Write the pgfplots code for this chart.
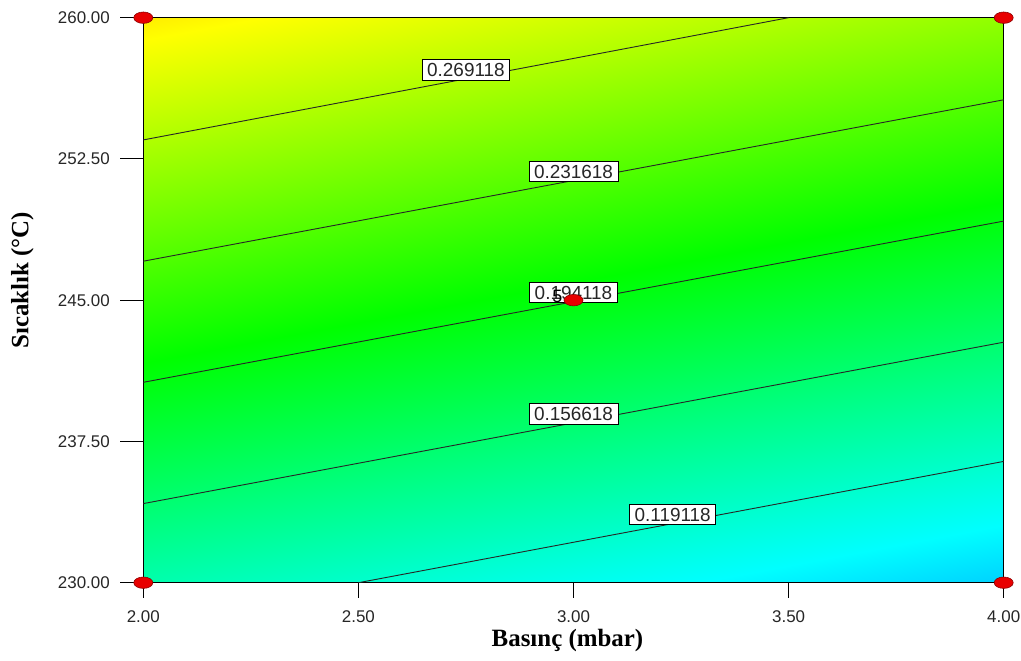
\documentclass[border=0pt]{standalone}
\usepackage{pgfplots}
\usepackage{pgfplotstable}
\pgfplotsset{compat=1.18}
\usepackage{fontspec}
\setmainfont{Liberation Sans}
\newfontfamily\serifbold{Liberation Serif}

\definecolor{dotred}{RGB}{232,0,0}
\definecolor{dotedge}{RGB}{140,0,0}

\tikzset{lbl/.style={draw=black, fill=white, line width=0.8bp, inner xsep=5bp,
    inner ysep=3.5bp, text height=13.6bp, text depth=0bp, anchor=south,
    yshift=-1.5bp, font=\fontsize{19}{22}\selectfont}}

% response surface on the design grid (Basınç, Sıcaklık, yanıt)
\pgfplotstableread{
x    y      z
2    230    0.13211
2.5  230    0.11962
3    230    0.10714
3.5  230    0.09465
4    230    0.08217
2    237.5  0.17582
2.5  237.5  0.16333
3    237.5  0.15085
3.5  237.5  0.13836
4    237.5  0.12588
2    245    0.21953
2.5  245    0.20704
3    245    0.19456
3.5  245    0.18207
4    245    0.16959
2    252.5  0.26324
2.5  252.5  0.25075
3    252.5  0.23827
3.5  252.5  0.22578
4    252.5  0.21330
2    260    0.30695
2.5  260    0.29446
3    260    0.28198
3.5  260    0.26949
4    260    0.25701
}\gridtable

% design points
\pgfplotstableread{
x  y
2  230
2  260
4  230
4  260
3  245
}\designpts

\begin{document}
\begin{tikzpicture}[x=1bp,y=1bp]
\begin{axis}[
  at={(0,0)}, anchor=south west,
  scale only axis, width=860.4bp, height=565bp,
  set layers, clip mode=individual,
  xmin=2, xmax=4, ymin=230, ymax=260,
  xtick={2,2.5,3,3.5,4},
  ytick={230,237.5,245,252.5,260},
  tick pos=left, tick align=outside,
  major tick length=15bp,
  ytick style={/pgfplots/major tick length=23bp},
  tick style={black, line width=1bp},
  axis line style={black, line width=1.2bp},
  /pgf/number format/fixed,
  /pgf/number format/fixed zerofill,
  /pgf/number format/precision=2,
  /pgf/number format/assume math mode=true,
  tick label style={font=\fontsize{17}{20}\selectfont, text=black!85},
  xticklabel style={yshift=-9.5bp},
  yticklabel style={xshift=-15bp},
  xlabel={Basınç (mbar)},
  ylabel={Sıcaklık (°C)},
  label style={font=\serifbold\bfseries\fontsize{25}{28}\selectfont},
  xlabel style={at={(axis description cs:0.493,-0.1015)}, anchor=center},
  ylabel style={at={(axis description cs:-0.1404,0.535)}, anchor=center},
  colormap={de}{rgb255(0cm)=(0,0,255); rgb255(1cm)=(0,255,255); rgb255(2cm)=(0,255,0); rgb255(3cm)=(255,255,0); rgb255(4cm)=(255,0,0)},
  point meta min=0, point meta max=0.4,
]
\addplot[surf, shader=interp, mesh/cols=5, point meta=explicit,
  on layer=axis background]
  table[x=x, y=y, meta=z] {\gridtable};

% contour lines
\addplot[black!85, line width=0.9bp] coordinates {(2,253.51) (3.5,260)}
  node[lbl, pos=0.5] {0.269118};
\addplot[black!85, line width=0.9bp] coordinates {(2,247.07) (4,255.64)}
  node[lbl, pos=0.5] {0.231618};
\addplot[black!85, line width=0.9bp] coordinates {(2,240.64) (4,249.20)}
  node[lbl, pos=0.5] {0.194118};
\addplot[black!85, line width=0.9bp] coordinates {(2,234.20) (4,242.77)}
  node[lbl, pos=0.5] {0.156618};
\addplot[black!85, line width=0.9bp] coordinates {(2.5,230) (4,236.44)}
  node[lbl, pos=0.487] {0.119118};

\node[anchor=east, inner sep=0pt, font=\fontsize{18}{20}\selectfont,
  xshift=-11bp, yshift=3.7bp] at (axis cs:3,245) {5};

\addplot[only marks, mark=*, mark size=5.7bp,
  mark options={xscale=1.67, fill=dotred, draw=dotedge, line width=0.6bp},
  on layer=axis foreground] table[x=x, y=y] {\designpts};
\end{axis}
\pgfresetboundingbox
\useasboundingbox (-143.3,-78.3) rectangle (877.7,582.7);
\end{tikzpicture}
\end{document}
